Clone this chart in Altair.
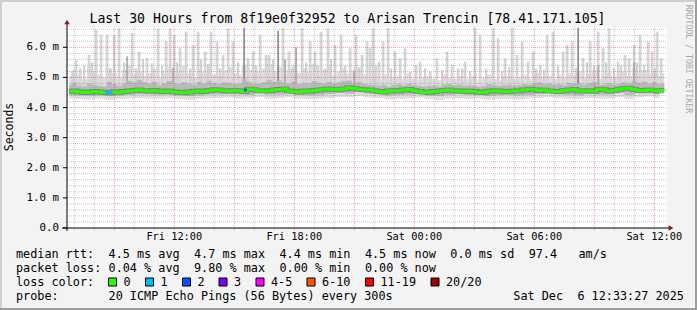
import altair as alt
import pandas as pd

FONT = "DejaVu Sans Mono"
W, H = 600, 201          # plot area in pixels
PL, PT = 67, 27          # plot origin inside the 697x310 canvas

T0, T1 = 6.635, 36.635   # hours since Fri 00:00
YMAX = 6.675             # milliseconds

TITLE = "Last 30 Hours from 8f19e0f32952 to Arisan Trencin [78.41.171.105]"

x_tick_hours = [12, 18, 24, 30, 36]
x_tick_labels = ["Fri 12:00", "Fri 18:00", "Sat 00:00", "Sat 06:00", "Sat 12:00"]
y_tick_values = [0, 1, 2, 3, 4, 5, 6]
y_tick_labels = ["0.0", "1.0 m", "2.0 m", "3.0 m", "4.0 m", "5.0 m", "6.0 m"]

# 15-minute samples
hours15 = [round(6.75 + 0.25 * i, 2) for i in range(120)]
median = [4.53, 4.55, 4.52, 4.50, 4.51, 4.53, 4.52, 4.50, 4.49, 4.52, 4.51, 4.53, 4.55, 4.57, 4.58, 4.56, 4.55, 4.57, 4.55, 4.53,
          4.55, 4.52, 4.50, 4.49, 4.52, 4.54, 4.55, 4.53, 4.57, 4.59, 4.58, 4.56, 4.55, 4.57, 4.56, 4.53, 4.61, 4.59, 4.56, 4.55,
          4.56, 4.58, 4.60, 4.62, 4.55, 4.53, 4.52, 4.55, 4.54, 4.57, 4.58, 4.61, 4.62, 4.60, 4.59, 4.62, 4.66, 4.63, 4.61, 4.59,
          4.58, 4.56, 4.53, 4.51, 4.55, 4.57, 4.56, 4.58, 4.60, 4.57, 4.53, 4.51, 4.50, 4.53, 4.55, 4.57, 4.58, 4.56, 4.55, 4.53,
          4.55, 4.53, 4.51, 4.50, 4.54, 4.56, 4.55, 4.53, 4.53, 4.55, 4.56, 4.58, 4.61, 4.59, 4.57, 4.58, 4.55, 4.53, 4.53, 4.56,
          4.58, 4.60, 4.56, 4.55, 4.56, 4.54, 4.61, 4.59, 4.55, 4.57, 4.61, 4.63, 4.64, 4.60, 4.57, 4.56, 4.58, 4.56, 4.55, 4.57]
light_hi = [5.05, 5.25, 5.10, 4.95, 5.35, 5.20, 5.10, 5.00, 5.30, 5.15, 5.00, 5.25, 5.40, 5.10, 5.20, 5.05, 5.15, 5.30, 5.00, 5.20,
            5.35, 5.10, 5.25, 5.40, 5.15, 5.00, 5.30, 5.20, 5.45, 5.10, 5.05, 5.25, 5.35, 5.15, 5.10, 5.40, 5.25, 5.05, 5.20, 5.30,
            5.45, 5.20, 5.35, 5.10, 5.25, 5.40, 5.15, 5.30, 5.20, 5.45, 5.10, 5.25, 5.35, 5.05, 5.20, 5.30, 5.15, 5.25, 5.35, 5.10,
            5.05, 5.00, 4.95, 5.10, 4.90, 5.00, 5.05, 4.95, 5.15, 4.95, 4.90, 5.00, 5.05, 4.95, 4.90, 5.10, 5.00, 4.95, 5.05, 4.90,
            4.95, 5.05, 4.90, 5.00, 5.10, 4.95, 4.90, 5.00, 5.05, 4.95, 5.00, 5.10, 4.95, 5.05, 5.15, 5.00, 5.05, 4.95, 5.10, 5.00,
            5.15, 5.05, 5.20, 5.00, 5.10, 5.25, 4.95, 5.05, 5.15, 5.00, 5.10, 5.20, 5.05, 5.30, 5.15, 5.25, 5.10, 5.20, 5.05, 5.15]
mid_hi = [4.75, 4.82, 4.72, 4.70, 4.80, 4.76, 4.72, 4.70, 4.85, 4.78, 4.72, 4.80, 4.88, 4.82, 4.92, 4.85, 4.80, 4.86, 4.76, 4.80,
          4.88, 4.80, 4.78, 4.84, 4.80, 4.76, 4.86, 4.80, 4.90, 4.82, 4.78, 4.84, 4.82, 4.78, 4.80, 4.95, 4.86, 4.78, 4.80, 4.84,
          4.92, 4.85, 4.90, 4.82, 4.80, 4.86, 4.78, 4.82, 4.80, 4.88, 4.82, 4.80, 4.86, 4.78, 4.84, 4.88, 4.90, 4.82, 4.84, 4.78,
          4.76, 4.74, 4.72, 4.76, 4.70, 4.74, 4.78, 4.74, 4.80, 4.74, 4.72, 4.70, 4.72, 4.74, 4.70, 4.76, 4.78, 4.74, 4.76, 4.72,
          4.74, 4.72, 4.70, 4.72, 4.78, 4.74, 4.72, 4.74, 4.76, 4.72, 4.74, 4.78, 4.76, 4.80, 4.84, 4.78, 4.80, 4.76, 4.78, 4.74,
          4.82, 4.78, 4.80, 4.76, 4.80, 4.84, 4.74, 4.76, 4.80, 4.76, 4.78, 4.84, 4.80, 4.88, 4.82, 4.86, 4.80, 4.84, 4.78, 4.80]

# 30-minute samples of the lower edges of the smoke
hours30 = [round(6.75 + 0.5 * i, 2) for i in range(60)]
light_lo = [4.30, 4.28, 4.27, 4.30, 4.26, 4.28, 4.30, 4.32, 4.30, 4.29, 4.31,
            4.28, 4.26, 4.29, 4.31, 4.32, 4.33, 4.30, 4.31, 4.35, 4.30,
            4.31, 4.34, 4.30, 4.28, 4.29, 4.32, 4.35, 4.34, 4.38, 4.33,
            4.32, 4.27, 4.29, 4.30, 4.33, 4.28, 4.25, 4.29, 4.31, 4.29,
            4.29, 4.26, 4.28, 4.29, 4.27, 4.30, 4.32, 4.34, 4.31, 4.29,
            4.28, 4.32, 4.30, 4.30, 4.34, 4.29, 4.34, 4.37, 4.31]
mid_lo = [4.41, 4.40, 4.39, 4.40, 4.38, 4.39, 4.42, 4.44, 4.43, 4.42, 4.43,
          4.41, 4.38, 4.40, 4.43, 4.44, 4.45, 4.43, 4.42, 4.48, 4.43,
          4.43, 4.47, 4.42, 4.40, 4.41, 4.45, 4.48, 4.47, 4.52, 4.47,
          4.45, 4.40, 4.42, 4.43, 4.47, 4.40, 4.38, 4.42, 4.45, 4.42,
          4.42, 4.38, 4.41, 4.42, 4.40, 4.42, 4.45, 4.48, 4.44, 4.42,
          4.40, 4.45, 4.43, 4.43, 4.48, 4.42, 4.48, 4.50, 4.44]

# tall light outlier spikes (hour, top in ms)
spike_h = [7.09, 7.29, 7.74, 8.09, 8.34, 8.64, 8.99, 9.24, 9.89, 10.24, 10.64, 10.89,
           11.19, 11.59, 11.79, 11.99, 12.29, 12.59, 12.94, 13.19, 13.54, 13.84, 14.14,
           14.44, 14.69, 14.94, 15.69, 15.94, 16.29, 16.59, 16.74, 17.44, 17.74, 18.39,
           18.79, 19.04, 19.34, 19.69, 20.04, 20.34, 20.79, 21.09, 21.39, 21.64, 21.79,
           21.94, 22.24, 22.44, 22.69, 23.04, 23.29, 23.54, 24.09, 24.29, 24.79, 25.14,
           25.64, 25.89, 26.19, 26.54, 27.04, 27.29, 27.94, 28.19, 28.54, 28.89, 29.14,
           29.39, 29.69, 29.94, 30.29, 30.64, 30.94, 31.44, 31.64, 31.89, 32.44, 32.79,
           33.19, 33.44, 33.74, 34.19, 34.54, 34.74, 34.99, 35.29, 35.69, 35.89, 36.14,
           36.34]
spike_top = [5.58, 5.30, 5.75, 6.58, 6.41, 6.41, 6.41, 6.63, 6.47, 5.86, 5.64, 5.47,
             6.63, 6.19, 6.63, 6.41, 5.97, 6.52, 6.08, 6.52, 5.86, 6.52, 6.19,
             5.75, 6.63, 6.19, 5.64, 5.86, 6.41, 5.75, 5.75, 6.65, 5.86, 6.63,
             6.19, 5.86, 6.52, 6.63, 6.08, 6.41, 5.97, 6.41, 5.75, 6.19, 5.97,
             6.63, 5.52, 6.19, 6.65, 5.86, 5.64, 5.97, 5.41, 5.52, 5.19, 5.64,
             5.86, 5.41, 5.30, 5.52, 6.65, 6.41, 6.63, 6.30, 5.64, 6.65, 5.75,
             6.19, 5.52, 5.86, 5.41, 6.41, 6.52, 5.86, 6.08, 6.19, 5.64, 6.19,
             6.52, 5.97, 6.63, 5.52, 5.75, 5.64, 6.08, 6.41, 6.19, 5.86, 6.52,
             5.64]
# lower light spikes
low_spike_h = [6.90, 7.49, 7.89, 8.79, 9.49, 10.09, 10.44, 11.39, 12.14, 12.79, 13.34, 13.69,
               14.29, 15.19, 16.09, 16.94, 17.89, 18.59, 19.19, 19.54, 19.84, 20.54, 21.24,
               22.09, 22.84, 23.79, 24.54, 25.39, 26.39, 26.79, 27.59, 28.39, 28.74, 30.09,
               30.49, 31.19, 32.09, 32.64, 32.99, 33.59, 33.99, 34.34, 35.14, 35.49, 36.04]
low_spike_top = [5.20, 5.40, 5.50, 5.30, 5.50, 5.30, 5.60, 5.40, 5.50, 5.30, 5.60, 5.40,
                 5.30, 5.50, 5.40, 5.60, 5.30, 5.50, 5.40, 5.30, 5.60, 5.40, 5.30,
                 5.40, 5.30, 5.20, 5.30, 5.25, 5.30, 5.20, 5.30, 5.20, 5.35, 5.30,
                 5.25, 5.40, 5.30, 5.50, 5.40, 5.50, 5.30, 5.40, 5.50, 5.40, 5.30]
gray_spike_h = [9.64, 11.94, 17.54, 18.09, 21.0, 33.2, 34.99]
gray_spike_top = [5.70, 5.30, 5.60, 6.00, 5.20, 5.40, 5.50]
dark_spike_h = [15.49, 17.19, 32.19]
dark_spike_top = [6.65, 6.55, 6.65]

# short loss-coloured stretches of the median
loss_start = [8.55, 15.50]
loss_end = [8.90, 15.62]
loss_val = [4.50, 4.58]
loss_col = ["#00b8ff", "#0059ff"]

loss_labels = ["0", "1", "2", "3", "4-5", "6-10", "11-19", "20/20"]
loss_colors = ["#26ff00", "#00b8ff", "#0059ff", "#7e00ff", "#ff00ff", "#ff5500", "#ff0000", "#a10000"]
LEG_BOX_X = [108.5, 145.5, 182.5, 219, 256, 307, 365.5, 431]

row1 = [(0, "median rtt:"), (13, "4.5 ms avg"), (25, "4.7 ms max"), (37, "4.4 ms min"),
        (49, "4.5 ms now"), (61, "0.0 ms sd"), (72, "97.4"), (79, "am/s")]
row2 = [(0, "packet loss:"), (13, "0.04 % avg"), (25, "9.80 % max"), (37, "0.00 % min"),
        (49, "0.00 % now")]
row3 = [(0, "loss color:")]
row4 = [(0, "probe:"), (13, "20 ICMP Echo Pings (56 Bytes) every 300s")]
date_parts = [(0, "Sat Dec"), (9, "6 12:33:27 2025")]

CW = 7.12
LEG_FS = 11.8

xs = alt.Scale(domain=[T0, T1], nice=False, zero=False)
ys = alt.Scale(domain=[0, YMAX], nice=False, zero=False)

b15 = pd.DataFrame({"h": hours15, "med": median, "lhi": light_hi, "mhi": mid_hi})
b30 = pd.DataFrame({"h": hours30, "llo": light_lo, "mlo": mid_lo})

X = lambda f: alt.X(f, type="quantitative", scale=xs, axis=None)
Y = lambda f: alt.Y(f, type="quantitative", scale=ys, axis=None)

layers = []

# light smoke
layers.append(alt.Chart(b30).mark_area(color="#dedede", interpolate="step").encode(
    x=X("h"), y=Y("llo"), y2=alt.Y2(datum=4.7)))
layers.append(alt.Chart(b15).mark_area(color="#dedede", interpolate="step").encode(
    x=X("h"), y=Y("lhi"), y2=alt.Y2(datum=4.6)))

sp = pd.DataFrame({"h": spike_h, "top": spike_top})
layers.append(alt.Chart(sp).mark_rule(color="#d6d6d6", strokeWidth=2.8).encode(
    x=X("h"), y=Y("top"), y2=alt.Y2(datum=4.7)))
lsp = pd.DataFrame({"h": low_spike_h, "top": low_spike_top})
layers.append(alt.Chart(lsp).mark_rule(color="#d2d2d2", strokeWidth=2.2).encode(
    x=X("h"), y=Y("top"), y2=alt.Y2(datum=4.7)))
gs = pd.DataFrame({"h": gray_spike_h, "top": gray_spike_top})
layers.append(alt.Chart(gs).mark_rule(color="#b0b0b0", strokeWidth=2).encode(
    x=X("h"), y=Y("top"), y2=alt.Y2(datum=4.7)))
ds = pd.DataFrame({"h": dark_spike_h, "top": dark_spike_top})
layers.append(alt.Chart(ds).mark_rule(color="#777777", strokeWidth=1.4).encode(
    x=X("h"), y=Y("top"), y2=alt.Y2(datum=4.7)))

# mid smoke
layers.append(alt.Chart(b30).mark_area(color="#b9b9b9", interpolate="step").encode(
    x=X("h"), y=Y("mlo"), y2=alt.Y2(datum=4.6)))
layers.append(alt.Chart(b15).mark_area(color="#b9b9b9", interpolate="step").encode(
    x=X("h"), y=Y("mhi"), y2=alt.Y2(datum=4.55)))

# grid
minor_v = [h for h in range(7, 37) if h % 3 != 0]
major_v = [h for h in range(9, 37, 3)]
minor_hv = [round(0.2 * i, 1) for i in range(1, 34) if i % 5 != 0]
major_hv = [1, 2, 3, 4, 5, 6]

def vgrid(vals, color, op):
    return alt.Chart(pd.DataFrame({"v": vals})).mark_rule(
        color=color, opacity=op, strokeDash=[1, 1], strokeWidth=1).encode(
        x=X("v"), y=alt.value(0), y2=alt.value(H + 2))

def hgrid(vals, color, op):
    return alt.Chart(pd.DataFrame({"v": vals})).mark_rule(
        color=color, opacity=op, strokeDash=[1, 1], strokeWidth=1).encode(
        y=Y("v"), x=alt.value(0), x2=alt.value(W))

layers += [vgrid(minor_v, "#8f8f8f", 0.5), hgrid(minor_hv, "#8f8f8f", 0.5),
           vgrid(major_v, "#de5151", 0.55), hgrid(major_hv, "#de5151", 0.55)]

# median with dark smoke around it
layers.append(alt.Chart(b15).mark_line(color="#4a4a4a", strokeWidth=5, opacity=0.45,
                                       interpolate="step").encode(x=X("h"), y=Y("med")))
layers.append(alt.Chart(b15).mark_line(color="#26ff00", strokeWidth=3,
                                       interpolate="step").encode(x=X("h"), y=Y("med")))
ls = pd.DataFrame({"a": loss_start, "b": loss_end, "v": loss_val, "c": loss_col})
layers.append(alt.Chart(ls).mark_rule(strokeWidth=3).encode(
    x=X("a"), x2="b", y=Y("v"), color=alt.Color("c:N", scale=None)))

# axes
one = pd.DataFrame({"k": [0]})
layers.append(alt.Chart(one).mark_rule(color="#000000", strokeWidth=1).encode(
    x=alt.value(0), y=alt.value(-3), y2=alt.value(H + 3)))
layers.append(alt.Chart(one).mark_rule(color="#000000", strokeWidth=1).encode(
    x=alt.value(-5), x2=alt.value(W + 3), y=alt.value(H)))
layers.append(alt.Chart(pd.DataFrame({"v": y_tick_values})).mark_rule(
    color="#000000", strokeWidth=1).encode(y=Y("v"), x=alt.value(-4), x2=alt.value(0)))
layers.append(alt.Chart(one).mark_point(shape="triangle-up", filled=True, size=30,
                                        color="#8b1a1a", opacity=1).encode(
    x=alt.value(0), y=alt.value(-5)))
layers.append(alt.Chart(one).mark_point(shape="triangle-right", filled=True, size=30,
                                        color="#8b1a1a", opacity=1).encode(
    x=alt.value(W + 4), y=alt.value(H)))

# tick labels
yl = pd.DataFrame({"v": y_tick_values, "t": y_tick_labels})
layers.append(alt.Chart(yl).mark_text(font=FONT, fontSize=10.8, align="right",
                                      baseline="middle", color="#000").encode(
    y=Y("v"), x=alt.value(-8), text="t:N"))
xl = pd.DataFrame({"v": x_tick_hours, "t": x_tick_labels})
layers.append(alt.Chart(xl).mark_text(font=FONT, fontSize=10.3, align="center",
                                      baseline="middle", color="#000").encode(
    x=X("v"), y=alt.value(210), text="t:N"))

def txt(s, x, y, size=LEG_FS, align="left", angle=0, color="#000000"):
    kw = dict(font=FONT, fontSize=size, align=align, baseline="middle", color=color)
    if angle:
        kw["angle"] = angle
    return alt.Chart(pd.DataFrame({"t": [s]})).mark_text(**kw).encode(
        x=alt.value(x), y=alt.value(y), text="t:N")

layers.append(txt(TITLE, 280.5, -8, size=13.2, align="center"))
layers.append(txt("Seconds", -57, 100, size=11.5, align="center", angle=270))
layers.append(txt("RRDTOOL / TOBI OETIKER", 621, 32, size=8.2, align="center",
                  angle=90, color="#a8a8a8"))

for row, yy in [(row1, 227), (row2, 241), (row3, 255), (row4, 269)]:
    for col, s in row:
        layers.append(txt(s, 16 - PL + col * CW, yy))
for col, s in date_parts:
    layers.append(txt(s, 513.3 - PL + col * CW, 269))

for bx, lab, col in zip(LEG_BOX_X, loss_labels, loss_colors):
    layers.append(alt.Chart(one).mark_rect(color=col, stroke="#000000", strokeWidth=1).encode(
        x=alt.value(bx - PL), x2=alt.value(bx - PL + 8), y=alt.value(251), y2=alt.value(259)))
    layers.append(txt(lab, bx - PL + 15, 255))

# frame shading
layers.append(alt.Chart(one).mark_rect(color="#cfcfcf").encode(
    x=alt.value(-PL), x2=alt.value(697 - PL), y=alt.value(-PT), y2=alt.value(-PT + 2)))
layers.append(alt.Chart(one).mark_rect(color="#cfcfcf").encode(
    x=alt.value(-PL), x2=alt.value(-PL + 2), y=alt.value(-PT), y2=alt.value(310 - PT)))
layers.append(alt.Chart(one).mark_rect(color="#9e9e9e").encode(
    x=alt.value(-PL), x2=alt.value(697 - PL), y=alt.value(310 - PT - 2), y2=alt.value(310 - PT)))
layers.append(alt.Chart(one).mark_rect(color="#9e9e9e").encode(
    x=alt.value(697 - PL - 2), x2=alt.value(697 - PL), y=alt.value(-PT), y2=alt.value(310 - PT)))

chart = alt.layer(*layers).properties(
    width=W, height=H,
    padding={"left": PL, "top": PT, "right": 697 - PL - W, "bottom": 310 - PT - H},
    autosize=alt.AutoSizeParams(type="none"),
    background="#f3f3f3",
).configure_view(fill="#ffffff", stroke=None)

chart.save("out.html", embed_options={"renderer": "svg", "actions": False})
